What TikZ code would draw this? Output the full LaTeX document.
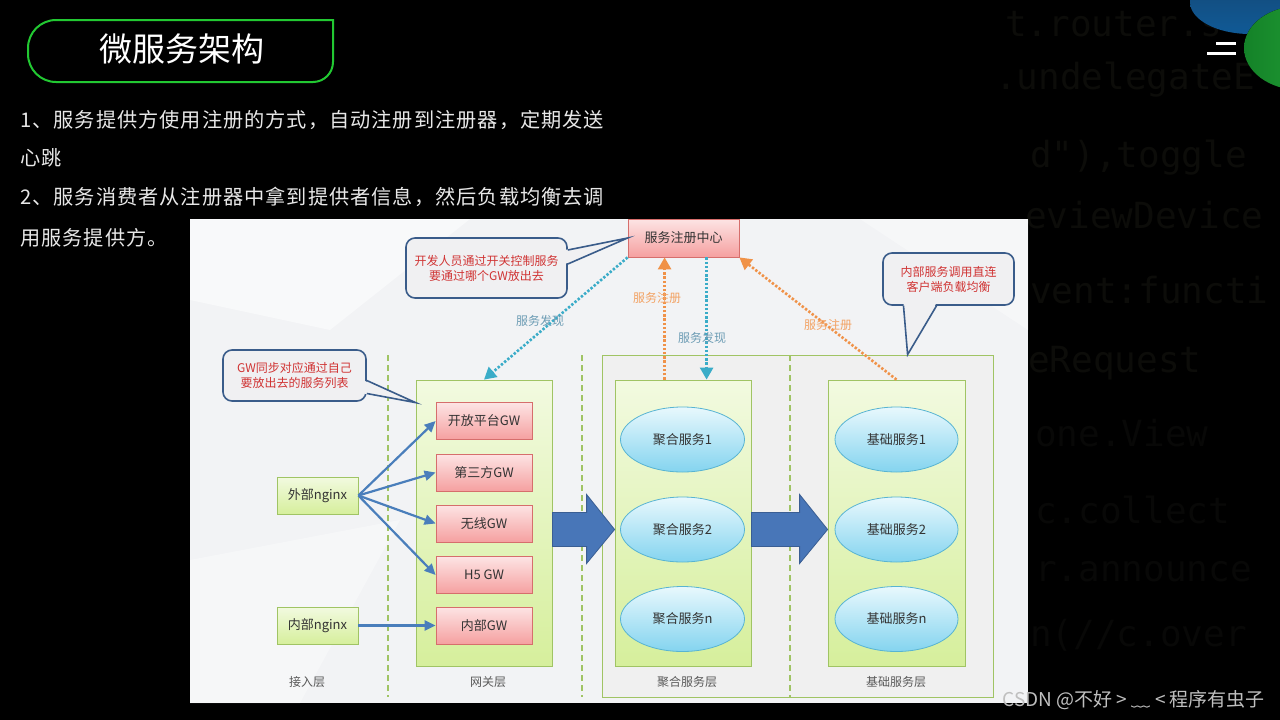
\documentclass[tikz,border=0pt]{standalone}
\usepackage{fontspec}
\setmainfont{Noto Sans CJK SC}
\newfontfamily\slidefont{Noto Sans CJK SC}[LetterSpace=5]
\newfontfamily\codefont{DejaVu Sans Mono}
\usetikzlibrary{shapes.geometric,arrows.meta,calc}

\definecolor{slidegreen}{RGB}{34,200,50}
\definecolor{slidetext}{RGB}{232,232,232}
\definecolor{codegray}{RGB}{12,12,9}
\definecolor{codedark}{RGB}{8,8,7}
\definecolor{paper}{RGB}{242,243,245}
\definecolor{gwred}{RGB}{214,110,108}
\definecolor{gwtop}{RGB}{253,228,228}
\definecolor{gwbottom}{RGB}{245,160,160}
\definecolor{layergreen}{RGB}{160,196,100}
\definecolor{layertop}{RGB}{242,250,224}
\definecolor{layerbottom}{RGB}{214,239,156}
\definecolor{svcline}{RGB}{88,180,210}
\definecolor{svctop}{RGB}{232,248,253}
\definecolor{svcbottom}{RGB}{132,212,239}
\definecolor{linkblue}{RGB}{74,126,187}
\definecolor{flowblue}{RGB}{72,118,184}
\definecolor{noteblue}{RGB}{58,92,138}
\definecolor{notefill}{RGB}{240,240,242}
\definecolor{notered}{RGB}{208,52,52}
\definecolor{regorange}{RGB}{240,146,72}
\definecolor{findteal}{RGB}{58,172,200}
\definecolor{findlabel}{RGB}{108,156,180}

\begin{document}
\begin{tikzpicture}[x=1pt,y=-1pt,font=\fontsize{13}{15}\selectfont,
    gwbox/.style={draw=gwred,thick,top color=gwtop,bottom color=gwbottom,
      minimum width=96pt,minimum height=37pt,inner sep=0pt,text=black!80},
    nginxbox/.style={draw=layergreen,thick,top color=layertop,bottom color=layerbottom,
      minimum width=81pt,minimum height=37pt,inner sep=0pt,text=black!80},
    layerbox/.style={draw=layergreen,thick,top color=layertop,bottom color=layerbottom,
      minimum width=136pt,minimum height=286pt,inner sep=0pt},
    svc/.style={ellipse,draw=svcline,thick,top color=svctop,bottom color=svcbottom,
      minimum width=124pt,minimum height=65pt,inner sep=0pt,text=black!80},
    note/.style={draw=noteblue,line width=1.6pt,fill=notefill,rounded corners=9pt,
      align=center,text=notered,font=\fontsize{12}{15}\selectfont,inner sep=0pt},
    link/.style={draw=linkblue,line width=2.2pt,-{Triangle[length=11pt,width=10pt]}},
    dotarrow/.style={line width=2.6pt,dash pattern=on 2.4pt off 1.8pt,
      -{Triangle[length=12pt,width=13pt]}},
    laneline/.style={draw=layergreen,line width=1.3pt,dash pattern=on 6pt off 4pt},
    tag/.style={font=\fontsize{12}{14}\selectfont},
    layertag/.style={font=\fontsize{12}{14}\selectfont,text=black!65},
    codeline/.style={anchor=west,text=codegray,inner sep=0pt,
      font=\codefont\fontsize{36}{36}\selectfont}]

  % slide background
  \fill[black] (0,0) rectangle (1280,720);
  \useasboundingbox (0,0) rectangle (1280,720);
  \node[codeline] (code1) at (1005,24) {t.router.s};
  \node[codeline] (code2) at (995,80) {.undelegateE};
  \node[codeline] (code3) at (1030,158) {d"),toggle};
  \node[codeline] (code4) at (1025,215) {eviewDevice};
  \node[codeline] (code5) at (1030,290) {vent:functi};
  \node[codeline] (code6) at (1028,363) {eRequest};
  \node[codeline,text=codedark] (code7) at (1035,433) {one.View};
  \node[codeline,text=codedark] (code8) at (1035,510) {c.collect};
  \node[codeline,text=codedark] (code9) at (1035,572) {r.announce};
  \node[codeline,text=codedark] (code10) at (1030,635) {n(//c.over};
  \begin{scope}
    \clip (0,0) rectangle (1280,720);
    \fill[top color={rgb,255:red,20;green,70;blue,115},bottom color={rgb,255:red,16;green,90;blue,150}]
      (1250,2) ellipse (60 and 32);
    \fill[left color={rgb,255:red,20;green,130;blue,40},right color={rgb,255:red,40;green,170;blue,60}]
      (1300,48) ellipse (56 and 42);
  \end{scope}
  \draw[white,line width=3pt] (1216,43) -- (1236,43);
  \draw[white,line width=3pt] (1207,53) -- (1236,53);

  % title and text
  \draw[slidegreen,line width=2pt] (333,50) -- (333,20) [rounded corners=28pt]
    -- (28,20) -- (28,82) [rounded corners=20pt] -- (333,82) -- (333,50);
  \node[text=white,font=\fontsize{33}{36}\selectfont] (title) at (182,49) {微服务架构};
  \begin{scope}[every node/.style={anchor=west,text=slidetext,
      font=\slidefont\fontsize{20.2}{24}\selectfont,inner sep=0pt}]
    \node (line1) at (20,120) {1、服务提供方使用注册的方式，自动注册到注册器，定期发送};
    \node (line2) at (20,158) {心跳};
    \node (line3) at (20,197) {2、服务消费者从注册器中拿到提供者信息，然后负载均衡去调};
    \node (line4) at (20,238) {用服务提供方。};
  \end{scope}

  % diagram
  \fill[paper] (190,219) rectangle (1028,703);
  \fill[white,opacity=.5] (190,219) -- (470,219) -- (330,330) -- (190,300) -- cycle;
  \fill[white,opacity=.35] (190,560) -- (400,520) -- (300,703) -- (190,703) -- cycle;
  \fill[white,opacity=.35] (860,219) -- (1028,219) -- (1028,330) -- cycle;

  \node[draw=layergreen,thick,fill=black!6,minimum width=391pt,minimum height=342pt,
    inner sep=0pt] (svcarea) at (797.5,526) {};
  \foreach \x in {388,582,790}
    \draw[laneline] (\x,355) -- (\x,697);

  \node[layerbox] (gwlayer) at (484,523) {};
  \node[layerbox] (agglayer) at (683,523) {};
  \node[layerbox,minimum width=137pt] (baselayer) at (896.5,523) {};

  \node[gwbox,minimum width=111pt,minimum height=38pt] (reg) at (683.5,238) {服务注册中心};

  \foreach \n/\y/\t in {1/421/开放平台GW,2/472.5/第三方GW,3/523.5/无线GW,4/575/H5 GW,5/625.5/内部GW}
    \node[gwbox] (gw\n) at (484,\y) {\t};
  \node[nginxbox] (ext) at (317.5,495.5) {外部nginx};
  \node[nginxbox] (int) at (317.5,625.5) {内部nginx};
  \foreach \n in {1,...,4}
    \draw[link] (ext.east) -- (gw\n.west);
  \draw[link] (int) -- (gw5);

  \foreach \n/\y/\i in {1/439.5/1,2/529.5/2,3/619/n} {
    \node[svc] (agg\n) at (682.5,\y) {聚合服务\i};
    \node[svc,minimum width=123pt] (base\n) at (896.5,\y) {基础服务\i};
  }

  % block arrows between layers
  \foreach \s/\t in {gwlayer/agglayer,agglayer/baselayer} {
    \path (\s.east |- agg2.center) coordinate (fa) (\t.west |- agg2.center) coordinate (fb);
    \filldraw[fill=flowblue,draw=flowblue!80!black,thick]
      ($(fa)+(0,-17)$) -- ($(fb)+(-28,-17)$) -- ($(fb)+(-28,-35)$) -- (fb)
      -- ($(fb)+(-28,34)$) -- ($(fb)+(-28,17)$) -- ($(fa)+(0,17)$) -- cycle;
  }

  % registration and discovery
  \coordinate (aggreg) at ($(agglayer.north west)+(50,0)$);
  \coordinate (aggfind) at ($(agglayer.north west)+(92,0)$);
  \draw[dotarrow,draw=findteal] (reg.south west) -- (gwlayer.north);
  \draw[dotarrow,draw=regorange] (aggreg) -- (aggreg |- reg.south);
  \draw[dotarrow,draw=findteal] (aggfind |- reg.south) -- (aggfind);
  \draw[dotarrow,draw=regorange] (baselayer.north) -- (reg.south east);
  \node[tag,text=findlabel] (find1) at (540,321) {服务发现};
  \node[tag,text=regorange!85] (reg1) at (657,298) {服务注册};
  \node[tag,text=findlabel] (find2) at (702,338) {服务发现};
  \node[tag,text=regorange!85] (reg2) at (828,325) {服务注册};

  % notes
  \node[note,minimum width=161pt,minimum height=60pt] (note1) at (486.5,268)
    {开发人员通过开关控制服务\\要通过哪个GW放出去};
  \fill[notefill] ($(note1.east)+(-3,-18)$) -- (reg.west) -- ($(note1.east)+(-3,-4)$) -- cycle;
  \draw[noteblue,line width=1.6pt] ($(note1.east)+(0,-18)$) -- (reg.west) -- ($(note1.east)+(0,-4)$);

  \node[note,minimum width=143pt,minimum height=51pt] (note2) at (294.5,375.5)
    {GW同步对应通过自己\\要放出去的服务列表};
  \coordinate (note2tip) at ($(gwlayer.north west)+(0,23)$);
  \fill[notefill] ($(note2.east)+(-3,5)$) -- (note2tip) -- ($(note2.east)+(-3,18)$) -- cycle;
  \draw[noteblue,line width=1.6pt] ($(note2.east)+(0,5)$) -- (note2tip) -- ($(note2.east)+(0,18)$);

  \node[note,minimum width=131pt,minimum height=52pt] (note3) at (948.5,279)
    {内部服务调用直连\\客户端负载均衡};
  \coordinate (note3tip) at ($(svcarea.north west)+(306,0)$);
  \fill[notefill] ($(note3.south)+(-45,-3)$) -- (note3tip) -- ($(note3.south)+(-12,-3)$) -- cycle;
  \draw[noteblue,line width=1.6pt] ($(note3.south)+(-45,0)$) -- (note3tip) -- ($(note3.south)+(-12,0)$);

  % layer names
  \node[layertag] (access) at (307,682) {接入层};
  \node[layertag] (gateway) at (488,682) {网关层};
  \node[layertag] (aggname) at (687,682) {聚合服务层};
  \node[layertag] (basename) at (896,682) {基础服务层};

  \node[anchor=east,text=black!25,font=\fontsize{19}{22}\selectfont,inner sep=0pt]
    (mark) at (1265,700) {CSDN @不好 > ﹏ < 程序有虫子};
\end{tikzpicture}
\end{document}
